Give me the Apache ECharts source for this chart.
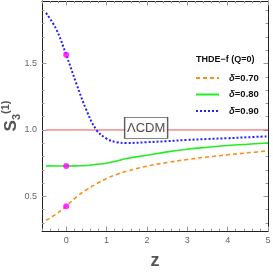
<!DOCTYPE html>
<html>
<head>
<meta charset="utf-8">
<script src="https://cdn.jsdelivr.net/npm/echarts@6/dist/echarts.min.js"></script>
<style>html,body{margin:0;padding:0;background:#fff}#c{width:273px;height:273px}</style>
</head>
<body>
<div id="c"></div>
<script>
const zVals = [-0.5,-0.25,0,0.25,0.5,0.75,1,1.25,1.5,2,2.5,3,3.5,4,4.5,5];
const s070 = [0.32,0.367,0.427,0.495,0.55,0.595,0.635,0.665,0.69,0.728,0.755,0.778,0.797,0.813,0.828,0.843];
const s080 = [0.73,0.729,0.729,0.73,0.733,0.741,0.75,0.767,0.785,0.81,0.835,0.855,0.87,0.883,0.893,0.902];
const s090 = [1.88,1.76,1.565,1.35,1.15,1.0,0.935,0.908,0.902,0.908,0.916,0.925,0.932,0.938,0.945,0.952];
const seriesNames = ['δ=0.70','δ=0.80','δ=0.90'];
const lcdmZ = [-0.5, 5];
const lcdmVal = 1.0;
const lcdmLabelPos = [1.98, 1.015];
const pointZ = 0;
const pointVals = [1.565, 0.729, 0.427];
const xTickLabels = ['0','1','2','3','4','5'];
const yTickLabels = ['0.5','1.0','1.5'];

const pair = (xs, ys) => xs.map((x, i) => [x, ys[i]]);
const chart = echarts.init(document.getElementById('c'));
const W = 273, H = 273;
const G = {left: 42, right: 5, top: 1, bottom: 42};
const X = {min: -0.6, max: 5.0};
const Y = {min: 0.24, max: 1.97};
const gw = W - G.left - G.right, gh = H - G.top - G.bottom;
const px = v => G.left + (v - X.min) / (X.max - X.min) * gw;
const py = v => G.top + (Y.max - v) / (Y.max - Y.min) * gh;
const gray = '#666';
const tickC = '#999';
const frameC = '#222';
const font = 'Liberation Sans';
const grids = [
  Object.assign({outerBoundsMode: 'none'}, G),
  {left: G.left, right: G.right, top: py(1.9), bottom: H - py(0.3), outerBoundsMode: 'none'},
  {left: px(0), right: G.right, top: G.top, bottom: G.bottom, outerBoundsMode: 'none'},
  {left: G.left, right: G.right, top: py(1.5), bottom: H - py(0.5), outerBoundsMode: 'none'}
];
const hidden = (gi, mn, mx) => ({type: 'value', gridIndex: gi, min: mn, max: mx, show: false});
const axis = (gi, pos, mn, mx, o) => {
  const a = {
    type: 'value', gridIndex: gi, position: pos, min: mn, max: mx,
    axisLine: {show: !!o.line, onZero: false, lineStyle: {color: frameC, width: 1}},
    axisTick: o.iv ? {show: true, inside: true, length: o.len, lineStyle: {color: tickC, width: 1}} : {show: false},
    splitLine: {show: false},
    axisLabel: o.labels ? {show: true, margin: 5, fontSize: 9, color: gray, fontFamily: font,
      showMinLabel: true, showMaxLabel: true,
      formatter: v => { const i = o.labels.vals.findIndex(t => Math.abs(t - v) < 1e-6); return i >= 0 ? o.labels.text[i] : ''; }} : {show: false}
  };
  if (o.iv) a.interval = o.iv;
  return Object.assign(a, o.extra || {});
};
const xLab = {vals: xTickLabels.map(Number), text: xTickLabels};
const yLab = {vals: yTickLabels.map(Number), text: yTickLabels};

chart.setOption({
  animation: false,
  grid: grids,
  xAxis: [
    axis(0, 'bottom', X.min, X.max, {line: true, iv: 0.2, len: 2.5, extra: {
      name: 'z', nameLocation: 'middle', nameGap: 21,
      nameTextStyle: {fontSize: 18, fontWeight: 'bold', color: '#555', fontFamily: font}}}),
    axis(0, 'top', X.min, X.max, {line: true, iv: 0.2, len: 2.5}),
    hidden(1, X.min, X.max),
    axis(2, 'bottom', 0, 5, {iv: 1, len: 4.5, labels: xLab}),
    axis(2, 'top', 0, 5, {iv: 1, len: 4.5}),
    hidden(3, X.min, X.max)
  ],
  yAxis: [
    axis(0, 'left', Y.min, Y.max, {line: true, extra: {
      name: '{s|S}{b|3}{p|(1)}', nameLocation: 'middle', nameGap: 20, nameRotate: 90,
      nameTextStyle: {color: '#555', rich: {
        s: {fontSize: 17, fontWeight: 'bold', color: '#555', fontFamily: font, lineHeight: 22, verticalAlign: 'middle'},
        b: {fontSize: 11, fontWeight: 'bold', color: '#555', fontFamily: font, verticalAlign: 'bottom', lineHeight: 11},
        p: {fontSize: 11, fontWeight: 'bold', color: '#555', fontFamily: font, verticalAlign: 'top', lineHeight: 11}
      }}}}),
    axis(0, 'right', Y.min, Y.max, {line: true}),
    axis(1, 'left', 0.3, 1.9, {iv: 0.1, len: 2.5}),
    axis(1, 'right', 0.3, 1.9, {iv: 0.1, len: 2.5}),
    hidden(2, Y.min, Y.max),
    axis(3, 'left', 0.5, 1.5, {iv: 0.5, len: 4.5, labels: yLab}),
    axis(3, 'right', 0.5, 1.5, {iv: 0.5, len: 4.5})
  ],
  legend: {
    data: seriesNames, orient: 'vertical', left: 190, top: 68,
    itemWidth: 23, itemHeight: 10, itemGap: 6.5,
    itemStyle: {color: 'rgba(0,0,0,0)', borderWidth: 0, opacity: 0},
    formatter: n => '{i|δ}{t|' + n.slice(1) + '}',
    textStyle: {padding: [0, 0, 0, 5], rich: {
      i: {fontSize: 9.5, fontStyle: 'italic', fontWeight: 'bold', color: '#111', fontFamily: font},
      t: {fontSize: 9.5, fontWeight: 'bold', color: '#111', fontFamily: font}
    }}
  },
  graphic: [{
    type: 'text', left: 196, top: 55,
    style: {text: 'THDE−f (Q=0)', font: 'bold 9px Liberation Sans', fill: '#111'}
  }],
  series: [
    {name: seriesNames[0], type: 'line', data: pair(zVals, s070), symbol: 'none', smooth: 0.4,
      lineStyle: {color: '#ff8c1a', width: 1.6, type: [4, 3]}, itemStyle: {color: '#ff8c1a'}, z: 3},
    {name: seriesNames[1], type: 'line', data: pair(zVals, s080), symbol: 'none', smooth: 0.4,
      lineStyle: {color: '#22ee22', width: 1.6, type: 'solid'}, itemStyle: {color: '#22ee22'}, z: 3},
    {name: seriesNames[2], type: 'line', data: pair(zVals, s090), symbol: 'none', smooth: 0.4,
      lineStyle: {color: '#2222ff', width: 2, type: [2, 2]}, itemStyle: {color: '#2222ff'}, z: 3},
    {name: 'LCDM', type: 'line', data: lcdmZ.map(x => [x, lcdmVal]), symbol: 'none',
      lineStyle: {color: '#e85555', width: 1}, z: 2},
    {name: 'LCDMlabel', type: 'scatter', data: [lcdmLabelPos], symbol: 'rect', symbolSize: [43, 21], z: 5,
      itemStyle: {color: '#fff', borderColor: '#333', borderWidth: 1},
      label: {show: true, position: 'inside', formatter: 'ΛCDM', fontSize: 13, color: '#222', fontFamily: font}},
    {name: 'pts', type: 'scatter', data: pointVals.map(v => [pointZ, v]), symbolSize: 6,
      itemStyle: {color: '#ff00ff'}, z: 6}
  ]
});
</script>
</body>
</html>
